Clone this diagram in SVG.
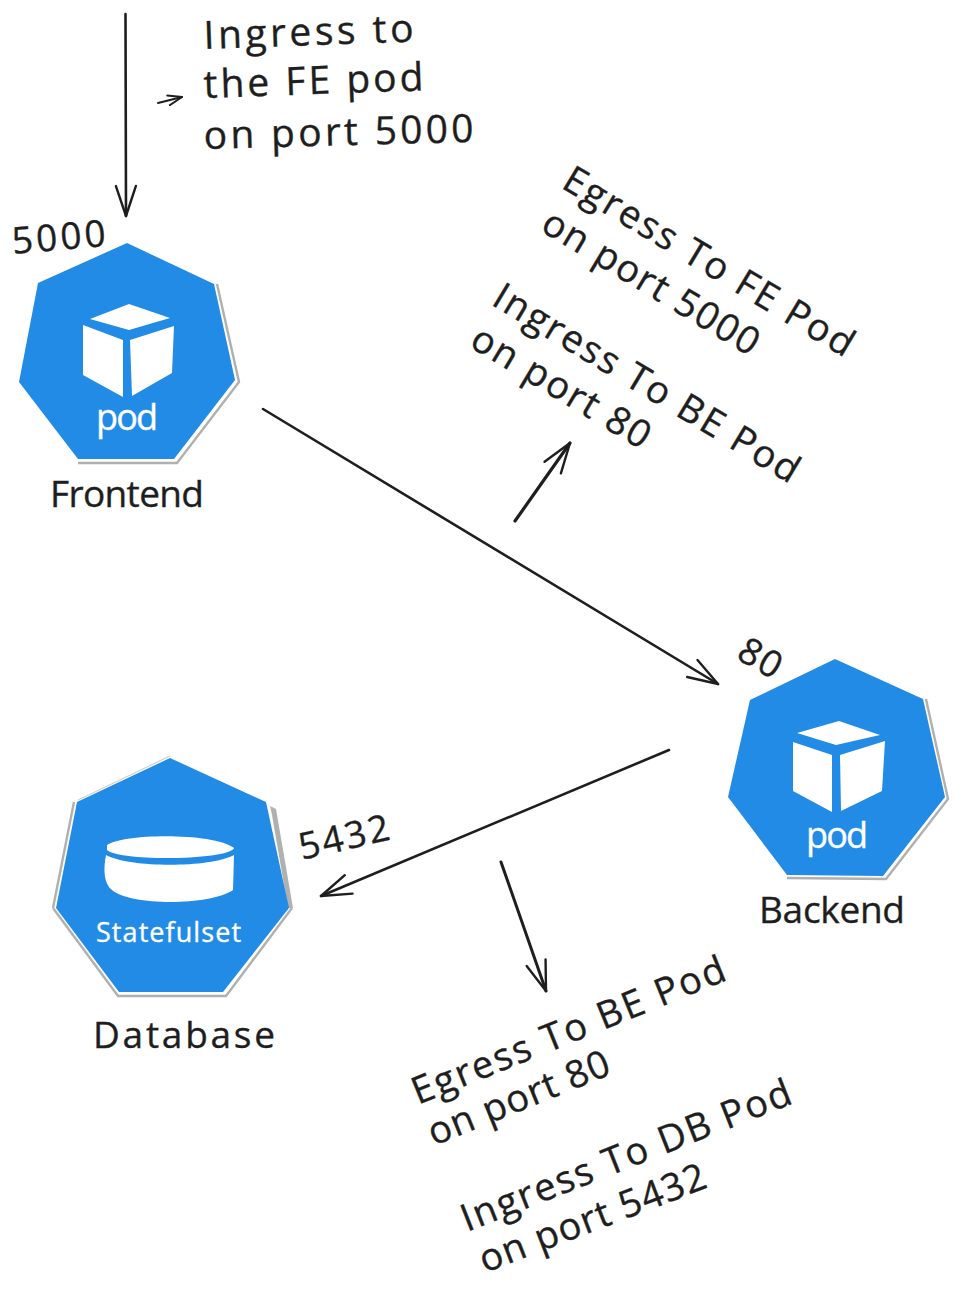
<svg xmlns="http://www.w3.org/2000/svg" width="958" height="1295" viewBox="0 0 958 1295">
<style>
text{font-family:"Open Sans","Noto Sans",sans-serif;fill:#1e1e1e;stroke:#1e1e1e;stroke-width:.35}
.t{font-size:39px}
.r{font-size:38px}
.n{font-size:37px}
.w{fill:#fff;stroke:#fff}
.hex{fill:#228be6}
.sh{fill:none;stroke:#b0b0b0;stroke-width:2.400}
.wh{fill:#fff}
.c{fill:none;stroke:#1e1e1e;stroke-width:2.600;stroke-linecap:round;stroke-linejoin:round}
</style>
<defs>
<marker id="a" viewBox="0 0 34 24" refX="32" refY="12" markerWidth="34" markerHeight="24" markerUnits="userSpaceOnUse" orient="auto"><path d="M2 2L32 12L2 22" fill="none" stroke="#1e1e1e" stroke-width="2.400" stroke-linecap="round" stroke-linejoin="round"/></marker>
<marker id="b" viewBox="0 0 16 12" refX="15" refY="6" markerWidth="16" markerHeight="12" markerUnits="userSpaceOnUse" orient="auto"><path d="M1 1L15 6L1 11" fill="none" stroke="#1e1e1e" stroke-width="2" stroke-linecap="round" stroke-linejoin="round"/></marker>
</defs>
<g id="connectors">
<path class="c" d="M125.500 14L126 216" marker-end="url(#a)"/>
<path class="c" d="M158 103L182 97" marker-end="url(#b)" style="stroke-width:2"/>
<path class="c" d="M263 409L718 684" marker-end="url(#a)"/>
<path class="c" d="M515 521L570 443" marker-end="url(#a)" style="stroke-width:3.200"/>
<path class="c" d="M669 750L321 896" marker-end="url(#a)"/>
<path class="c" d="M501 862L546 991" marker-end="url(#a)" style="stroke-width:3"/>
</g>
<g id="frontend">
<path class="sh" d="M217 284L239 382L177 463L78 463"/>
<path class="hex" d="M127 243L214 284L235 380L174 459L78 459L19 382L38 283Z"/>
<path class="wh" d="M129 304L170 318L129 330L90 319ZM83 325L123 340L123 397L83 375ZM130 340L174 326L172 373L132 396Z"/>
<text class="w" x="96" y="430" style="font-size:36px" textLength="62">pod</text>
<text x="50" y="507" class="n" textLength="154">Frontend</text>
<text x="13" y="254" class="n" textLength="94" transform="rotate(-5 13 254)">5000</text>
</g>
<g id="backend">
<path class="sh" d="M926 699L948 799L886 879L787 878"/>
<path class="hex" d="M835 659L923 699L945 797L883 876L787 875L728 797L750 700Z"/>
<path class="wh" d="M839 721L880 735L836 745L797 733ZM793 742L832 755L832 812L793 791ZM840 755L885 741L882 791L841 811Z"/>
<text class="w" x="806" y="848" style="font-size:36px" textLength="62">pod</text>
<text x="759" y="923" class="n" textLength="146">Backend</text>
<text x="735" y="658" class="n" textLength="44" transform="rotate(30 735 658)">80</text>
</g>
<g id="database">
<path d="M53 908L118 996L226 996L292 908M53 908L74 802" class="sh"/>
<path d="M78 800L170 756" fill="none" stroke="#d0d0d0" stroke-width="1.200"/>
<path d="M270 806L276 809L293 908L288 908L272 815Z" fill="#b0b0b0"/>
<path class="hex" d="M170 758L266 802L289 908L223 992L119 992L56 908L77 802Z"/>
<path class="wh" d="M107 845C125 833 215 833 234 848C230 860 120 862 107 850ZM106 855C130 868 210 868 234 855L233 890C210 906 130 906 112 890C104 884 103 870 106 855Z"/>
<text class="w" x="96" y="942" style="font-size:27px" textLength="145">Statefulset</text>
<text x="93" y="1048" class="n" textLength="182">Database</text>
<text x="302" y="860" class="n" textLength="92" transform="rotate(-13 302 860)">5432</text>
</g>
<g id="labels">
<text x="204" y="49" class="t" textLength="210" transform="rotate(-2 204 49)">Ingress to</text>
<text x="204" y="98" class="t" textLength="220" transform="rotate(-2 204 98)">the FE pod</text>
<text x="204" y="149" class="t" textLength="270" transform="rotate(-1.500 204 149)">on port 5000</text>
<text x="560" y="187" class="r" textLength="332" transform="rotate(31 560 187)">Egress To FE Pod</text>
<text x="539" y="230" class="r" textLength="246" transform="rotate(31 539 230)">on port 5000</text>
<text x="490" y="304" class="r" textLength="350" transform="rotate(31 490 304)">Ingress To BE Pod</text>
<text x="468" y="346" class="r" textLength="202" transform="rotate(31 468 346)">on port 80</text>
<text x="418" y="1105" class="r" textLength="335" transform="rotate(-22 418 1105)">Egress To BE Pod</text>
<text x="434" y="1146" class="r" textLength="193" transform="rotate(-22 434 1146)">on port 80</text>
<text x="467" y="1232" class="r" textLength="352" transform="rotate(-21.500 467 1232)">Ingress To DB Pod</text>
<text x="485" y="1273" class="r" textLength="240" transform="rotate(-21 485 1273)">on port 5432</text>
</g>
</svg>
